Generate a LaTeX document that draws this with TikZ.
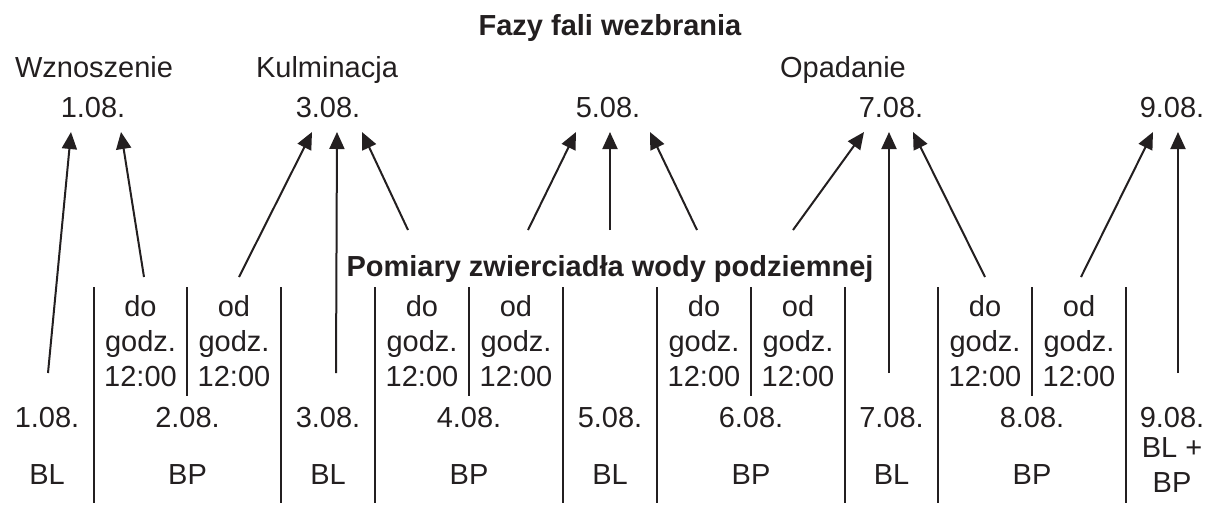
\documentclass[tikz,border=0pt]{standalone}
\usepackage{fontspec}
\setmainfont{Liberation Sans}
\usetikzlibrary{arrows.meta}
\definecolor{ink}{HTML}{231F20}
\begin{document}
\begin{tikzpicture}[x=0.5pt,y=-0.5pt,
  lbl/.style={font=\fontsize{14.5}{17.5}\selectfont, text=ink, inner sep=0pt, anchor=base, align=center},
  hd/.style={lbl, font=\fontsize{14.5}{17.5}\selectfont\bfseries},
  arr/.style={draw=ink, line width=1pt, -{Triangle[length=8.5pt,width=7.5pt]}},
  sep/.style={draw=ink, line width=0.6pt}]
\useasboundingbox (0,0) rectangle (1206,505);

% titles
\node[hd] (title) at (610,35) {Fazy fali wezbrania};
\node[lbl] (wzn) at (94,77) {Wznoszenie};
\node[lbl] (kul) at (327,77) {Kulminacja};
\node[lbl] (opa) at (843,77) {Opadanie};

% top dates
\node[lbl] (t1) at (93,117) {1.08.};
\node[lbl] (t3) at (328,117) {3.08.};
\node[lbl] (t5) at (608,117) {5.08.};
\node[lbl] (t7) at (891,117) {7.08.};
\node[lbl] (t9) at (1172,117) {9.08.};

\node[hd] (pom) at (610,276) {Pomiary zwierciadła wody podziemnej};

% separators
\foreach \x in {94,281,375,563,657,845,938,1126}
  \draw[sep] (\x,287) -- (\x,503);
\foreach \x in {187,469,751,1032}
  \draw[sep] (\x,287) -- (\x,396);

% half-day cells
\node[lbl] (c2a) at (140.5,386.7) {do\\godz.\\12:00};
\node[lbl] (c2b) at (234,386.7) {od\\godz.\\12:00};
\node[lbl] (c4a) at (422,386.7) {do\\godz.\\12:00};
\node[lbl] (c4b) at (516,386.7) {od\\godz.\\12:00};
\node[lbl] (c6a) at (704,386.7) {do\\godz.\\12:00};
\node[lbl] (c6b) at (798,386.7) {od\\godz.\\12:00};
\node[lbl] (c8a) at (985,386.7) {do\\godz.\\12:00};
\node[lbl] (c8b) at (1079,386.7) {od\\godz.\\12:00};

% bottom dates
\node[lbl] (b1) at (47,427) {1.08.};
\node[lbl] (b2) at (187.5,427) {2.08.};
\node[lbl] (b3) at (328,427) {3.08.};
\node[lbl] (b4) at (469,427) {4.08.};
\node[lbl] (b5) at (610,427) {5.08.};
\node[lbl] (b6) at (751,427) {6.08.};
\node[lbl] (b7) at (891.5,427) {7.08.};
\node[lbl] (b8) at (1032,427) {8.08.};
\node[lbl] (b9) at (1172,427) {9.08.};

% types
\node[lbl] (m1) at (47,484) {BL};
\node[lbl] (m2) at (187.5,484) {BP};
\node[lbl] (m3) at (328,484) {BL};
\node[lbl] (m4) at (469,484) {BP};
\node[lbl] (m5) at (610,484) {BL};
\node[lbl] (m6) at (751,484) {BP};
\node[lbl] (m7) at (891.5,484) {BL};
\node[lbl] (m8) at (1032,484) {BP};
\node[lbl] (m9) at (1172,492) {BL +\\BP};

% arrow ends
\coordinate (s1) at (48,373);   \coordinate (e1) at (71,132);
\coordinate (s2) at (144,277);  \coordinate (e2) at (121,132);
\coordinate (s3) at (239,277);  \coordinate (e3) at (312,132);
\coordinate (s4) at (336,373);  \coordinate (e4) at (337,132);
\coordinate (s5) at (408,230);  \coordinate (e5) at (362,132);
\coordinate (s6) at (528,230);  \coordinate (e6) at (576,132);
\coordinate (s7) at (610,230);  \coordinate (e7) at (610,132);
\coordinate (s8) at (697,230);  \coordinate (e8) at (650,132);
\coordinate (s9) at (793,230);  \coordinate (e9) at (864,132);
\coordinate (s10) at (889,373); \coordinate (e10) at (889,132);
\coordinate (s11) at (985,277); \coordinate (e11) at (913,132);
\coordinate (s12) at (1081,277);\coordinate (e12) at (1153,132);
\coordinate (s13) at (1178,373);\coordinate (e13) at (1178,132);

\foreach \i in {1,...,13}
  \draw[arr] (s\i) -- (e\i);
\end{tikzpicture}
\end{document}
